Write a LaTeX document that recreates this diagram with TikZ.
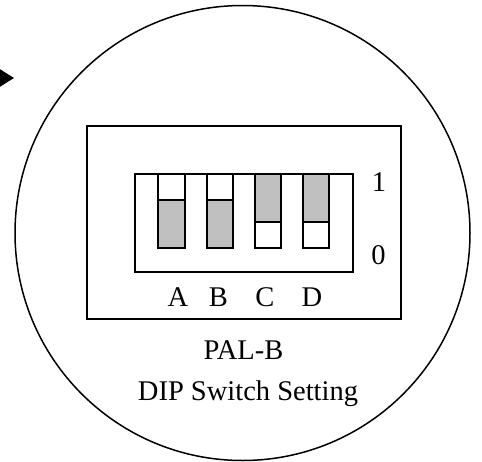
\documentclass[tikz,border=0pt]{standalone}
\usepackage{fontspec}
\setmainfont{Liberation Serif}
\usetikzlibrary{arrows.meta}
\definecolor{swgray}{RGB}{192,192,192}
\tikzset{every picture/.style={x=1pt,y=-1pt}}
\tikzset{frame/.style={draw,line width=2pt}}
\tikzset{lever/.style={draw,line width=2pt}}
\tikzset{knob/.style={fill=swgray}}
\tikzset{lens/.style={draw,line width=1.5pt}}
\tikzset{pointer/.style={line width=2pt,-{Triangle[length=14pt,width=17pt]}}}
\tikzset{annot/.style={font=\fontsize{28.5}{30}\selectfont,inner sep=0pt,anchor=base}}

\begin{document}
\begin{tikzpicture}
\useasboundingbox (0,0) rectangle (482,461);
% magnifier
\draw [lens] (242.5,233) circle [radius=227.5pt];
\coordinate (tail) at (-40,78);
\coordinate (tip) at (14,78);
\draw [pointer] (tail) -- (tip);
% boxes
\draw [frame] (87,126) rectangle (401,319);
\draw [frame] (135,174) rectangle (352.7,271.7);
% switch A, B (down)
\fill [knob] (158.3,200) rectangle (185,248.3);
\draw [lever] (158.3,174) rectangle (185,248.3);
\draw [lever] (158.3,200) -- (185,200);
\fill [knob] (206.7,200) rectangle (232.7,248.3);
\draw [lever] (206.7,174) rectangle (232.7,248.3);
\draw [lever] (206.7,200) -- (232.7,200);
% switch C, D (up)
\fill [knob] (255,174) rectangle (280.7,221.7);
\draw [lever] (255,174) rectangle (280.7,248.3);
\draw [lever] (255,221.7) -- (280.7,221.7);
\fill [knob] (302.7,174) rectangle (328.7,221.7);
\draw [lever] (302.7,174) rectangle (328.7,248.3);
\draw [lever] (302.7,221.7) -- (328.7,221.7);
% labels
\node [annot] (on) at (379,191.7) {1};
\node [annot] (off) at (378.5,264) {0};
\node [annot] (la) at (178,306.7) {A};
\node [annot] (lb) at (218.5,306.7) {B};
\node [annot] (lc) at (265,306.7) {C};
\node [annot] (ld) at (312,306.7) {D};
\node [annot] (mode) at (243.5,359) {PAL-B};
\node [annot] (title) at (248,400.7) {DIP Switch Setting};
\end{tikzpicture}
\end{document}
